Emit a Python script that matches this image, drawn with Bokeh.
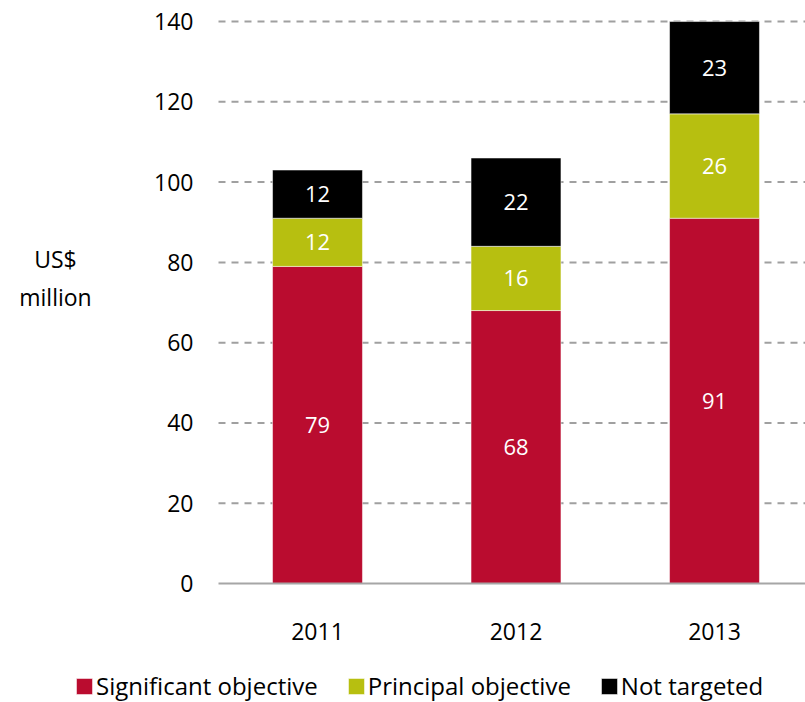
from bokeh.plotting import figure
from bokeh.models import ColumnDataSource, Range1d, Legend, LegendItem
from bokeh.core.properties import value
from bokeh.embed import file_html
from bokeh.resources import INLINE

years = ["2011", "2012", "2013"]
significant = [79, 68, 91]
principal = [12, 16, 26]
not_targeted = [12, 22, 23]
series_names = ["Significant objective", "Principal objective", "Not targeted"]
colors = ["#BA0C2F", "#B7BF10", "#000000"]
y_ticks = [0, 20, 40, 60, 80, 100, 120, 140]
y_title = ["US$", "million"]

FONT = "Open Sans"
W, H = 805, 702
# pixel layout of the chart
PX_X0, PX_PER_X = 317.0, 198.5     # pixel of category 0, pixels per category
PX_Y0, PX_PER_Y = 583.0, 4.014     # pixel of value 0, pixels per unit
PLOT_LEFT_PX = 218.0

def dx(px):
    return (px - PX_X0) / PX_PER_X

def dy(py):
    return (PX_Y0 - py) / PX_PER_Y

xs = list(range(len(years)))
src = ColumnDataSource(dict(x=xs, sig=significant, pri=principal, nt=not_targeted))

p = figure(width=W, height=H, output_backend="svg", toolbar_location=None,
           x_range=Range1d(dx(0), dx(W)), y_range=Range1d(dy(H), dy(0)),
           min_border=0)
p.outline_line_color = None
p.axis.visible = False
p.grid.visible = False

# gridlines (dashed) and baseline
grid_y = y_ticks[1:]
p.segment(x0=[dx(PLOT_LEFT_PX)] * len(grid_y), x1=[dx(W)] * len(grid_y),
          y0=grid_y, y1=grid_y, line_color="#A0A0A0", line_width=2, line_dash="7 6")

rs = p.vbar_stack(["sig", "pri", "nt"], x="x", width=0.453, color=colors,
                  line_color="white", line_width=0.5, source=src)

p.segment(x0=[dx(PLOT_LEFT_PX)], x1=[dx(W)], y0=[y_ticks[0]], y1=[y_ticks[0]],
          line_color="#A6A6A6", line_width=2)

# segment labels
lx, ly, lt = [], [], []
for i in xs:
    base = 0
    for vals in (significant, principal, not_targeted):
        v = vals[i]
        lx.append(i)
        ly.append(base + v / 2)
        lt.append(str(v))
        base += v
p.text(x=lx, y=ly, text=lt, text_color="white", text_font=value(FONT),
       text_font_size="22px", text_align="center", text_baseline="middle")

# y tick labels
p.text(x=[dx(193)] * len(y_ticks), y=y_ticks, text=[str(t) for t in y_ticks],
       text_color="black", text_font=value(FONT), text_font_size="23px",
       text_align="right", text_baseline="middle")

# x tick labels
p.text(x=xs, y=[dy(631)] * len(xs), text=years, text_color="black",
       text_font=value(FONT), text_font_size="23px", text_align="center",
       text_baseline="middle")

# y title
p.text(x=[dx(55)] * 2, y=[dy(258), dy(296)], text=y_title, text_color="black",
       text_font=value(FONT), text_font_size="23px", text_align="center",
       text_baseline="middle")

legend = Legend(items=[LegendItem(label=n, renderers=[r]) for n, r in zip(series_names, rs)],
                location=(74, 0), orientation="horizontal",
                glyph_width=20, glyph_height=20, label_standoff=2, spacing=28,
                padding=0, margin=0, border_line_color=None, background_fill_alpha=0,
                label_text_font=FONT, label_text_font_size="24px", label_text_color="black")
p.add_layout(legend, "center")

open("out.html", "w").write(file_html(p, INLINE))
